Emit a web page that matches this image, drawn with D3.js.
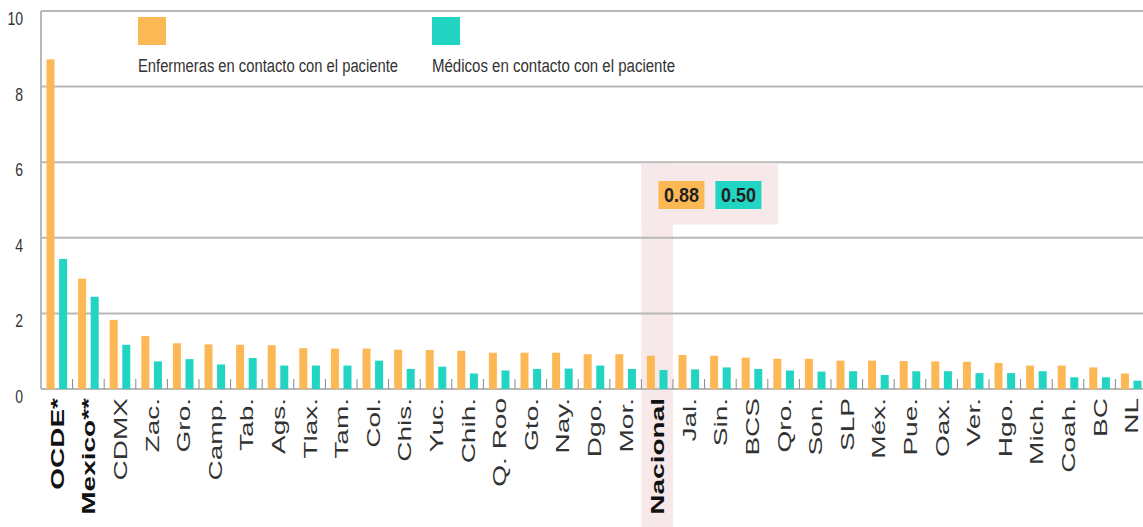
<!DOCTYPE html>
<html>
<head>
<meta charset="utf-8">
<script src="https://cdn.jsdelivr.net/npm/d3@7"></script>
<style>
  html, body { margin: 0; padding: 0; background: #fff; }
  svg { display: block; }
  text { font-family: "Liberation Sans", Arial, sans-serif; }
</style>
</head>
<body>
<svg id="chart" width="1143" height="527"></svg>
<script>
const categories = ["OCDE*","Mexico**","CDMX","Zac.","Gro.","Camp.","Tab.","Ags.","Tlax.","Tam.","Col.","Chis.","Yuc.","Chih.","Q. Roo","Gto.","Nay.","Dgo.","Mor.","Nacional","Jal.","Sin.","BCS","Qro.","Son.","SLP","Méx.","Pue.","Oax.","Ver.","Hgo.","Mich.","Coah.","BC","NL"];
const enfermeras = [8.72,2.92,1.83,1.40,1.21,1.18,1.17,1.16,1.08,1.07,1.07,1.04,1.03,1.01,0.96,0.96,0.96,0.92,0.92,0.88,0.90,0.88,0.83,0.80,0.80,0.75,0.75,0.74,0.73,0.72,0.69,0.62,0.62,0.57,0.41];
const medicos = [3.44,2.44,1.17,0.73,0.79,0.65,0.82,0.62,0.62,0.62,0.75,0.53,0.59,0.41,0.49,0.53,0.54,0.62,0.53,0.50,0.52,0.57,0.53,0.49,0.46,0.47,0.37,0.47,0.47,0.42,0.42,0.47,0.31,0.31,0.22];
const seriesNames = ["Enfermeras en contacto con el paciente","Médicos en contacto con el paciente"];
const yTicks = [0,2,4,6,8,10];
const boldCats = ["OCDE*","Mexico**","Nacional"];
const highlightCat = "Nacional";
const highlightLabels = ["0.88","0.50"];

const colors = ["#FDB856","#22D4C2"];
const svg = d3.select("#chart");

const x = d3.scaleBand().domain(categories).range([41, 1147]).padding(0);
const xs = d3.scaleBand().domain([0,1]).range([0, x.bandwidth()]).paddingInner(0.365).paddingOuter(0.437);
const y = d3.scaleLinear().domain([0,10]).range([389, 11]);

// highlight (behind)
const hx0 = x(highlightCat);
const hl = svg.append("g");
hl.append("rect").attr("x", hx0).attr("y", y(5.95)).attr("width", x.step()*4.33).attr("height", y(4.35)-y(5.95)).attr("fill","#F7E8EA");
hl.append("rect").attr("x", hx0).attr("y", y(5.95)).attr("width", x.bandwidth()).attr("height", 527 - y(5.95)).attr("fill","#F7E8EA");

// gridlines
svg.append("g").selectAll("line").data(yTicks).join("line")
  .attr("x1", 41).attr("x2", 1143)
  .attr("y1", d => y(d)).attr("y2", d => y(d))
  .attr("stroke", "#b8b8b8").attr("stroke-width", 2);
svg.append("line").attr("x1",41).attr("x2",41).attr("y1",y(10)).attr("y2",y(0)).attr("stroke","#b8b8b8").attr("stroke-width",2);

// y tick labels
svg.append("g").selectAll("text").data(yTicks).join("text")
  .attr("transform", d => `translate(23,${y(d)+14}) scale(0.78,1)`)
  .attr("text-anchor","end").attr("font-size",18).attr("fill","#333")
  .text(d => d);

// category boundary ticks
svg.append("g").selectAll("line").data(categories.slice(1)).join("line")
  .attr("x1", d => x(d)).attr("x2", d => x(d))
  .attr("y1", y(0)-10).attr("y2", y(0))
  .attr("stroke","#888").attr("stroke-width",1);

// bars
const series = [enfermeras, medicos];
series.forEach((vals, si) => {
  svg.append("g").selectAll("rect").data(categories).join("rect")
    .attr("x", (c) => x(c) + xs(si))
    .attr("width", xs.bandwidth())
    .attr("y", (c, i) => y(vals[i]))
    .attr("height", (c, i) => y(0) - y(vals[i]))
    .attr("fill", colors[si]);
});

// category labels
svg.append("g").selectAll("text").data(categories).join("text")
  .attr("transform", d => `translate(${x(d)+x.bandwidth()/2+7},398) rotate(-90) scale(1,0.65)`)
  .attr("text-anchor","end")
  .attr("font-size",28)
  .attr("font-weight", d => boldCats.includes(d) ? "bold" : "normal")
  .attr("fill", d => boldCats.includes(d) ? "#111" : "#333")
  .text(d => d);

// highlight badges
const bx = [hx0 + 17, hx0 + 74];
highlightLabels.forEach((t, i) => {
  svg.append("rect").attr("x", bx[i]).attr("y", 181).attr("width", 46).attr("height", 28).attr("fill", colors[i]);
  svg.append("text").attr("x", bx[i] + 23).attr("y", 202).attr("text-anchor","middle")
    .attr("font-size", 21).attr("font-weight","bold").attr("fill","#222")
    .attr("textLength", 35).attr("lengthAdjust","spacingAndGlyphs").text(t);
});

// legend
const legX = [138, 432];
const legLen = [260, 243];
seriesNames.forEach((n, i) => {
  svg.append("rect").attr("x", legX[i]).attr("y", 17).attr("width", 28).attr("height", 28).attr("fill", colors[i]);
  svg.append("text").attr("x", legX[i]).attr("y", 72).attr("font-size", 18).attr("fill","#333")
    .attr("textLength", legLen[i]).attr("lengthAdjust","spacingAndGlyphs").text(n);
});
</script>
</body>
</html>
